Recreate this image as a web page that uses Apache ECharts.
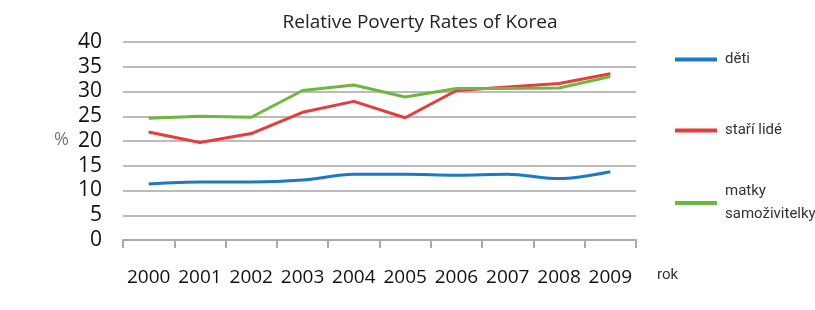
<!DOCTYPE html>
<html>
<head>
<meta charset="utf-8">
<script src="https://cdn.jsdelivr.net/npm/echarts@6/dist/echarts.min.js"></script>
<style>
  html, body { margin: 0; padding: 0; background: #fff; }
  #chart { width: 815px; height: 310px; }
</style>
</head>
<body>
<div id="chart"></div>
<script>
var years = ['2000', '2001', '2002', '2003', '2004', '2005', '2006', '2007', '2008', '2009'];
var deti = [11.3, 11.7, 11.7, 12.1, 13.3, 13.3, 13.1, 13.3, 12.4, 13.8];
var stariLide = [21.8, 19.7, 21.5, 25.8, 28.0, 24.7, 30.2, 30.9, 31.6, 33.6];
var matky = [24.6, 25.0, 24.8, 30.2, 31.3, 28.9, 30.6, 30.6, 30.7, 33.0];
var yTicks = [0, 5, 10, 15, 20, 25, 30, 35, 40];

var names = ['děti', 'staří lidé', 'matky samoživitelky'];
var legendLabels = ['děti', 'staří lidé', 'matky\nsamoživitelky'];
var colors = ['#1e78c2', '#e63c3c', '#6cb83c'];

var myChart = echarts.init(document.getElementById('chart'));

function legendFor(i, top) {
  return {
    data: [names[i]],
    orient: 'vertical',
    left: 670,
    top: top,
    icon: 'rect',
    itemWidth: 42,
    itemHeight: 4,
    itemGap: 0,
    selectedMode: false,
    formatter: function () { return legendLabels[i]; },
    textStyle: { fontFamily: 'Roboto', fontSize: 15, color: '#333', lineHeight: 23, padding: [0, 0, 0, 3] }
  };
}

var option = {
  animation: false,
  title: {
    text: 'Relative Poverty Rates of Korea',
    left: 415,
    textAlign: 'center',
    top: 8,
    textStyle: { fontFamily: 'Open Sans', fontSize: 19, fontWeight: 'normal', color: '#222' }
  },
  legend: [legendFor(0, 43), legendFor(1, 114), legendFor(2, 175)],
  grid: { left: 123, right: 179, top: 42, bottom: 70 },
  graphic: [
    { type: 'text', left: 54, top: 131, style: { text: '%', fontFamily: 'Open Sans', fontSize: 18, fill: '#777' } },
    { type: 'text', left: 657, top: 268, style: { text: 'rok', fontFamily: 'Roboto', fontSize: 15, fill: '#333' } }
  ],
  xAxis: {
    type: 'category',
    data: years,
    boundaryGap: true,
    axisLine: { lineStyle: { color: '#aaa', width: 2 } },
    axisTick: { show: true, interval: 0, length: 8, lineStyle: { color: '#aaa', width: 2 } },
    axisLabel: { interval: 0, hideOverlap: false, margin: 28, fontFamily: 'Open Sans', fontSize: 19, color: '#111' }
  },
  yAxis: {
    type: 'value',
    min: yTicks[0],
    max: yTicks[yTicks.length - 1],
    interval: 5,
    axisLine: { show: false },
    axisTick: { show: false },
    axisLabel: { margin: 21, fontFamily: 'Open Sans', fontSize: 21, color: '#111' },
    splitLine: { lineStyle: { color: '#bbb', width: 2 } }
  },
  series: [
    { name: names[0], type: 'line', data: deti, smooth: 0.3, showSymbol: false,
      lineStyle: { width: 3, color: colors[0] }, itemStyle: { color: colors[0] } },
    { name: names[1], type: 'line', data: stariLide, showSymbol: false,
      lineStyle: { width: 3, color: colors[1] }, itemStyle: { color: colors[1] } },
    { name: names[2], type: 'line', data: matky, showSymbol: false,
      lineStyle: { width: 3, color: colors[2] }, itemStyle: { color: colors[2] } }
  ]
};

myChart.setOption(option);
</script>
</body>
</html>
